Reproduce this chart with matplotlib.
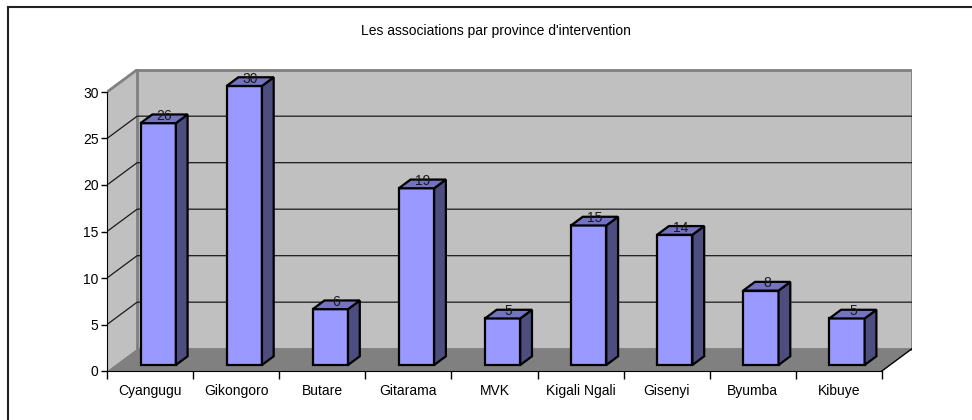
import matplotlib.pyplot as plt
from matplotlib.patches import Polygon
from matplotlib.lines import Line2D

plt.rcParams['font.family'] = ['Liberation Sans', 'DejaVu Sans']

# donnees
provinces = ['Cyangugu', 'Gikongoro', 'Butare', 'Gitarama', 'MVK',
             'Kigali Ngali', 'Gisenyi', 'Byumba', 'Kibuye']
nb_associations = [26, 30, 6, 19, 5, 15, 14, 8, 5]
y_ticks = [0, 5, 10, 15, 20, 25, 30]
titre = "Les associations par province d'intervention"

# style "Excel 3D"
dx, dy = 0.35, 2.4          # profondeur (unites de donnees)
f1, f2 = 0.27, 0.66         # position des barres dans la profondeur
w = 0.41                    # largeur des barres
ymax = 30
n = len(provinces)
wall = '#c0c0c0'
floor = '#808080'
c_front, c_side, c_top = '#9999ff', '#4d4d80', '#7373bf'

fig = plt.figure(figsize=(9.72, 4.2), dpi=100)
ax = fig.add_axes([107 / 972, 49 / 420, 805 / 972, 302 / 420])
ax.set_xlim(-0.5, -0.5 + 805 / 86.1)
ax.set_ylim(0, 302 / 9.3)
ax.patch.set_visible(False)

x0, x1 = -0.5, n - 0.5
# mur gauche
ax.add_patch(Polygon([(x0, 0), (x0 + dx, dy), (x0 + dx, ymax + dy), (x0, ymax)],
                     closed=True, fc=wall, ec='none', zorder=1))
# mur du fond
ax.add_patch(Polygon([(x0 + dx, dy), (x1 + dx, dy), (x1 + dx, ymax + dy), (x0 + dx, ymax + dy)],
                     closed=True, fc=wall, ec='#808080', lw=2, zorder=1))
ax.plot([x0, x0 + dx], [ymax, ymax + dy], color='#808080', lw=2, zorder=2)
# sol
ax.add_patch(Polygon([(x0, 0), (x1, 0), (x1 + dx, dy), (x0 + dx, dy)],
                     closed=True, fc=floor, ec='none', zorder=2))
ax.plot([x1, x1 + dx], [0, dy], color='black', lw=1, zorder=3)

# quadrillage
for v in y_ticks[1:-1]:
    ax.plot([x0, x0 + dx, x1 + dx], [v, v + dy, v + dy], color='#1a1a1a', lw=0.9, zorder=2)

# barres
for i, v in enumerate(nb_associations):
    xl = i - w / 2 + dx * f1
    xr = i + w / 2 + dx * f1
    yb = dy * f1
    ox, oy = dx * (f2 - f1), dy * (f2 - f1)
    kw = dict(closed=True, ec='black', lw=1.6, joinstyle='miter', zorder=5)
    ax.add_patch(Polygon([(xl, yb), (xr, yb), (xr, v + yb), (xl, v + yb)], fc=c_front, **kw))
    ax.add_patch(Polygon([(xr, yb), (xr + ox, yb + oy), (xr + ox, v + yb + oy), (xr, v + yb)], fc=c_side, **kw))
    ax.add_patch(Polygon([(xl, v + yb), (xr, v + yb), (xr + ox, v + yb + oy), (xl + ox, v + yb + oy)], fc=c_top, **kw))
    ax.text(i + dx * (f1 + f2) / 2, v + dy * (f1 + f2) / 2 + 0.3, str(v),
            ha='center', va='center', fontsize=10, color='#1a1a1a', zorder=6)

# axes
for s in ['top', 'right']:
    ax.spines[s].set_visible(False)
ax.spines['left'].set_bounds(0, ymax)
ax.spines['bottom'].set_bounds(x0, x1)
ax.spines['left'].set_zorder(4)
ax.spines['bottom'].set_zorder(4)
ax.set_yticks(y_ticks)
ax.set_xticks(range(n))
ax.set_xticklabels(provinces)
ax.set_xticks([x0 + k for k in range(n + 1)], minor=True)
ax.tick_params(axis='y', direction='out', length=4, width=1, pad=2, labelsize=10)
ax.tick_params(axis='x', which='major', length=0, pad=9.5, labelsize=10)
ax.tick_params(axis='x', which='minor', direction='out', length=6, width=1)

fig.text(496 / 972, 1 - 31 / 420, titre, ha='center', va='center', fontsize=10)

# cadre (haut et gauche)
fig.add_artist(Line2D([7.5 / 972, 1], [1 - 7 / 420, 1 - 7 / 420], color='#222222', lw=1.5))
fig.add_artist(Line2D([7.5 / 972, 7.5 / 972], [0, 1 - 7 / 420], color='#222222', lw=1.5))

fig.savefig('out.png', dpi=100)
